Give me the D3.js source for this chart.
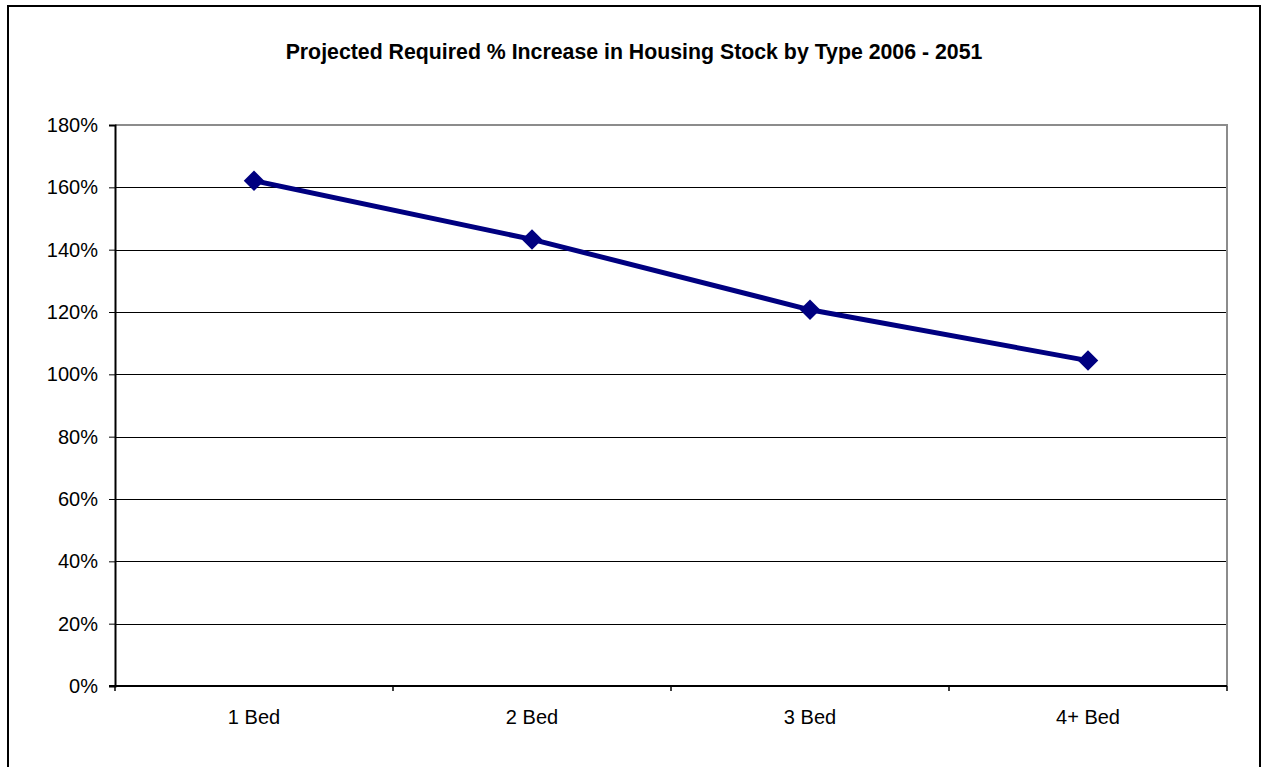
<!DOCTYPE html>
<html>
<head>
<meta charset="utf-8">
<script src="https://cdn.jsdelivr.net/npm/d3@7"></script>
<style>
  html, body { margin: 0; padding: 0; background: #fff; }
  svg { display: block; font-family: Arial, "Liberation Sans", sans-serif; }
</style>
</head>
<body>
<svg id="chart" width="1262" height="767"></svg>
<script>
// Housing stock projection by dwelling type
const categories = ["1 Bed", "2 Bed", "3 Bed", "4+ Bed"];
const increasePct = [162.1, 143.3, 120.7, 104.4];
const yTicks = [0, 20, 40, 60, 80, 100, 120, 140, 160, 180];
const chartTitle = "Projected Required % Increase in Housing Stock by Type 2006 - 2051";

const svg = d3.select("#chart");
const W = 1262, H = 767;

// outer frame (runs past the bottom edge)
svg.append("rect")
  .attr("x", 8).attr("y", 6)
  .attr("width", 1252).attr("height", H + 10)
  .attr("fill", "#fff").attr("stroke", "#000").attr("stroke-width", 2);

const plot = { left: 115, right: 1227, top: 125, bottom: 686 };

const x = d3.scaleBand().domain(categories).range([plot.left, plot.right]).paddingInner(0).paddingOuter(0);
const y = d3.scaleLinear().domain([0, 180]).range([plot.bottom, plot.top]);

svg.append("text")
  .attr("x", 634).attr("y", 59)
  .attr("text-anchor", "middle")
  .attr("font-size", 21.3).attr("font-weight", "bold")
  .text(chartTitle);

// horizontal gridlines
svg.append("g")
  .selectAll("line")
  .data(yTicks.filter(d => d > 0 && d < 180))
  .join("line")
  .attr("x1", plot.left).attr("x2", plot.right)
  .attr("y1", d => Math.round(y(d)) + 0.5).attr("y2", d => Math.round(y(d)) + 0.5)
  .attr("stroke", "#000").attr("stroke-width", 1);

// grey plot-area border on top and right
svg.append("path")
  .attr("d", `M${plot.left},${plot.top} H${plot.right} V${plot.bottom}`)
  .attr("fill", "none").attr("stroke", "#8c8c8c").attr("stroke-width", 2);

// y axis
const yAxis = d3.axisLeft(y).tickValues(yTicks).tickFormat(d => d + "%").tickSize(6).tickPadding(11);
const gy = svg.append("g").attr("transform", `translate(${plot.left},0)`).call(yAxis);
gy.select(".domain").attr("stroke", "#000").attr("stroke-width", 2);
gy.selectAll(".tick line").attr("stroke", "#000").attr("stroke-width", 1);
gy.selectAll(".tick text").attr("font-size", 20).attr("fill", "#000").attr("font-family", "Arial, 'Liberation Sans', sans-serif");

// x axis: ticks at the category boundaries, labels centred in each band
const gx = svg.append("g").attr("transform", `translate(0,${plot.bottom})`);
gx.append("line")
  .attr("x1", plot.left - 6).attr("x2", plot.right)
  .attr("y1", 0).attr("y2", 0)
  .attr("stroke", "#000").attr("stroke-width", 2);
const boundaries = categories.map(c => x(c)).concat([x(categories[categories.length - 1]) + x.bandwidth()]);
gx.selectAll("line.tk")
  .data(boundaries)
  .join("line").attr("class", "tk")
  .attr("x1", d => d).attr("x2", d => d)
  .attr("y1", 0).attr("y2", 5)
  .attr("stroke", "#000").attr("stroke-width", 1.5);
gx.selectAll("text")
  .data(categories)
  .join("text")
  .attr("x", d => x(d) + x.bandwidth() / 2)
  .attr("y", 38)
  .attr("text-anchor", "middle")
  .attr("font-size", 20)
  .text(d => d);

// series line and diamond markers
const pts = categories.map((c, i) => [x(c) + x.bandwidth() / 2, y(increasePct[i])]);
svg.append("path")
  .attr("d", d3.line()(pts))
  .attr("fill", "none").attr("stroke", "#000080").attr("stroke-width", 5)
  .attr("stroke-linejoin", "round");

const sym = d3.symbol().type(d3.symbolSquare).size(14.5 * 14.5);
svg.append("g")
  .selectAll("path")
  .data(pts)
  .join("path")
  .attr("transform", d => `translate(${d[0]},${d[1]}) rotate(45)`)
  .attr("d", sym)
  .attr("fill", "#000080");
</script>
</body>
</html>
